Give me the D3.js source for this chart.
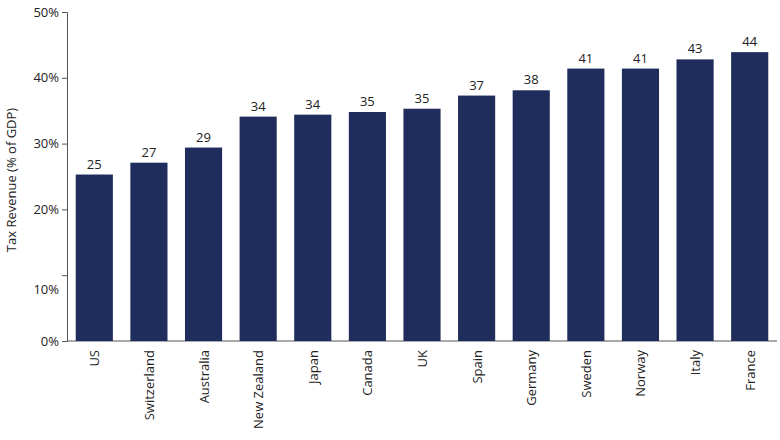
<!DOCTYPE html><html><head><meta charset="utf-8">
<script src="https://cdn.jsdelivr.net/npm/d3@7"></script>
<style>body{margin:0;background:#fff}text{font-family:"Open Sans",sans-serif}</style></head><body>
<svg id="c" width="780" height="440"></svg>
<script>
const categories=["US","Switzerland","Australia","New Zealand","Japan","Canada","UK","Spain","Germany","Sweden","Norway","Italy","France"];
const values=[25.3,27.1,29.4,34.1,34.4,34.8,35.3,37.3,38.1,41.4,41.4,42.8,43.9];
const labels=["25","27","29","34","34","35","35","37","38","41","41","43","44"];
const ticks=[0,10,20,30,40,50];
const svg=d3.select("#c");
const L=67,R=777,T=12,B=341;
const x=d3.scaleBand().domain(categories).range([L,R]).paddingInner(0.32).paddingOuter(0.16);
const y=d3.scaleLinear().domain([0,50]).range([B,T]);
const ax=svg.append("g").attr("transform",`translate(${L},0)`).call(d3.axisLeft(y).tickValues(ticks).tickSize(5).tickFormat(d=>d+"%"));
ax.select(".domain").attr("stroke","#555");
ax.selectAll(".tick line").attr("stroke","#555");
ax.selectAll(".tick text").attr("font-size",13).attr("fill","#222").attr("dy",d=>d===10?"18":"0.32em");
svg.append("line").attr("x1",L).attr("x2",R).attr("y1",B).attr("y2",B).attr("stroke","#555");
svg.append("g").selectAll("rect").data(values).join("rect")
 .attr("x",(d,i)=>x(categories[i])).attr("width",x.bandwidth())
 .attr("y",d=>y(d)).attr("height",d=>B-y(d)).attr("fill","#1f2d5c");
svg.append("g").selectAll("text").data(values).join("text")
 .attr("x",(d,i)=>x(categories[i])+x.bandwidth()/2).attr("y",d=>y(d)-6)
 .attr("text-anchor","middle").attr("font-size",13).attr("fill","#222").text((d,i)=>labels[i]);
svg.append("g").selectAll("text").data(categories).join("text")
 .attr("transform",d=>`translate(${x(d)+x.bandwidth()/2+5},350) rotate(-90)`)
 .attr("text-anchor","end").attr("font-size",13).attr("fill","#222").text(d=>d);
svg.append("text").attr("transform","translate(16,180) rotate(-90)").attr("text-anchor","middle")
 .attr("font-size",13).attr("fill","#222").text("Tax Revenue (% of GDP)");
</script></body></html>
